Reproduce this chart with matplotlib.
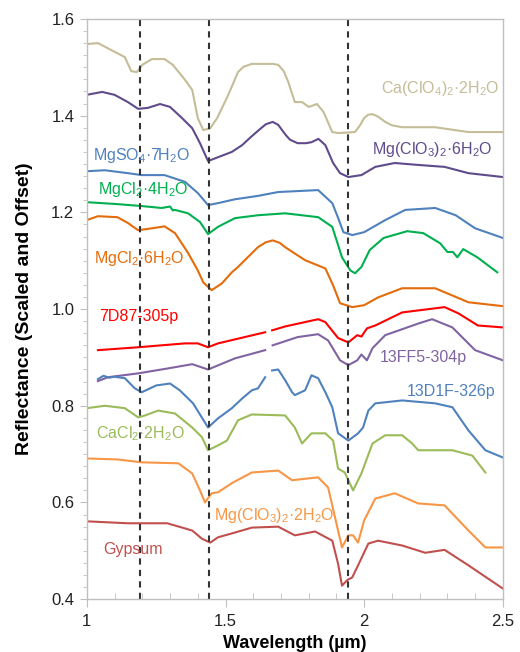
import numpy as np
import matplotlib
matplotlib.use("Agg")
import matplotlib.pyplot as plt
from matplotlib.ticker import MultipleLocator

plt.rcParams['font.family'] = ['Liberation Sans', 'DejaVu Sans']
plt.rcParams['mathtext.fontset'] = 'custom'
plt.rcParams['mathtext.rm'] = 'Liberation Sans'
plt.rcParams['mathtext.it'] = 'Liberation Sans:italic'
plt.rcParams['mathtext.bf'] = 'Liberation Sans:bold'

nan = np.nan

# ---- data (wavelength in um, reflectance scaled & offset) ----
ca_clo4_wl = [1.0, 1.04, 1.10, 1.137, 1.16, 1.18, 1.20, 1.235, 1.28, 1.31, 1.354, 1.38, 1.40, 1.42, 1.445, 1.47, 1.51, 1.545, 1.565, 1.595, 1.67, 1.69, 1.71, 1.726, 1.75, 1.776, 1.80, 1.83, 1.853, 1.885, 1.906, 1.967, 1.985, 2.0, 2.015, 2.03, 2.05, 2.076, 2.10, 2.137, 2.256, 2.376, 2.5]
ca_clo4_r = [1.548, 1.55, 1.532, 1.521, 1.492, 1.49, 1.505, 1.517, 1.517, 1.505, 1.474, 1.453, 1.395, 1.37, 1.374, 1.395, 1.443, 1.49, 1.501, 1.507, 1.507, 1.505, 1.492, 1.47, 1.428, 1.428, 1.418, 1.424, 1.408, 1.366, 1.364, 1.366, 1.38, 1.395, 1.402, 1.403, 1.398, 1.387, 1.38, 1.376, 1.376, 1.366, 1.366]

mg_clo3_6_wl = [1.0, 1.055, 1.10, 1.148, 1.185, 1.22, 1.264, 1.30, 1.343, 1.38, 1.408, 1.437, 1.473, 1.523, 1.56, 1.59, 1.62, 1.645, 1.67, 1.69, 1.704, 1.72, 1.733, 1.76, 1.79, 1.81, 1.835, 1.86, 1.888, 1.913, 1.943, 1.99, 2.04, 2.11, 2.195, 2.29, 2.376, 2.5]
mg_clo3_6_r = [1.443, 1.449, 1.443, 1.428, 1.414, 1.416, 1.424, 1.418, 1.395, 1.374, 1.343, 1.306, 1.314, 1.325, 1.339, 1.355, 1.37, 1.382, 1.387, 1.381, 1.37, 1.358, 1.35, 1.343, 1.343, 1.345, 1.352, 1.339, 1.302, 1.281, 1.273, 1.277, 1.294, 1.302, 1.298, 1.294, 1.281, 1.273]

mgso4_wl = [1.0, 1.065, 1.148, 1.198, 1.28, 1.354, 1.40, 1.437, 1.473, 1.534, 1.617, 1.69, 1.834, 1.885, 1.905, 1.925, 1.957, 2.0, 2.076, 2.148, 2.256, 2.33, 2.40, 2.5]
mgso4_r = [1.285, 1.287, 1.281, 1.277, 1.277, 1.263, 1.24, 1.215, 1.219, 1.227, 1.234, 1.242, 1.246, 1.219, 1.19, 1.159, 1.153, 1.159, 1.184, 1.205, 1.209, 1.194, 1.167, 1.147]

mgcl2_4_wl = [1.0, 1.11, 1.198, 1.27, 1.30, 1.31, 1.318, 1.365, 1.408, 1.437, 1.473, 1.534, 1.617, 1.715, 1.834, 1.885, 1.92, 1.95, 1.967, 1.99, 2.02, 2.07, 2.155, 2.213, 2.274, 2.30, 2.32, 2.336, 2.357, 2.408, 2.48]
mgcl2_4_r = [1.221, 1.217, 1.213, 1.209, 1.212, 1.204, 1.205, 1.198, 1.18, 1.155, 1.17, 1.188, 1.194, 1.198, 1.19, 1.17, 1.107, 1.08, 1.074, 1.087, 1.122, 1.147, 1.161, 1.157, 1.136, 1.118, 1.118, 1.107, 1.124, 1.107, 1.076]

mgcl2_6_wl = [1.0, 1.04, 1.11, 1.148, 1.185, 1.235, 1.28, 1.318, 1.365, 1.40, 1.42, 1.45, 1.487, 1.523, 1.545, 1.617, 1.645, 1.67, 1.695, 1.715, 1.787, 1.86, 1.888, 1.913, 1.957, 2.0, 2.05, 2.137, 2.256, 2.376, 2.5]
mgcl2_6_r = [1.184, 1.192, 1.19, 1.178, 1.163, 1.167, 1.171, 1.157, 1.116, 1.08, 1.055, 1.039, 1.053, 1.076, 1.087, 1.128, 1.138, 1.142, 1.137, 1.128, 1.101, 1.084, 1.049, 1.012, 1.004, 1.008, 1.024, 1.043, 1.043, 1.014, 1.006]

s7d87_wl = [1.04, 1.185, 1.354, 1.40, 1.437, 1.473, 1.643, 1.655, 1.668, 1.715, 1.834, 1.86, 1.906, 1.943, 1.975, 1.99, 2.01, 2.04, 2.137, 2.29, 2.34, 2.41, 2.5]
s7d87_r = [0.915, 0.921, 0.929, 0.929, 0.921, 0.929, 0.952, nan, 0.956, 0.964, 0.979, 0.973, 0.94, 0.931, 0.946, 0.943, 0.96, 0.966, 0.993, 1.004, 0.991, 0.966, 0.962]

s13ff5_wl = [1.04, 1.076, 1.185, 1.29, 1.38, 1.437, 1.534, 1.643, 1.655, 1.67, 1.76, 1.834, 1.87, 1.913, 1.943, 1.975, 1.99, 2.01, 2.03, 2.076, 2.195, 2.245, 2.318, 2.40, 2.5]
s13ff5_r = [0.851, 0.859, 0.867, 0.877, 0.886, 0.875, 0.898, 0.915, nan, 0.925, 0.942, 0.948, 0.935, 0.894, 0.884, 0.894, 0.906, 0.894, 0.919, 0.946, 0.97, 0.979, 0.962, 0.915, 0.894]

s13d1f_wl = [1.04, 1.06, 1.08, 1.10, 1.137, 1.173, 1.198, 1.25, 1.30, 1.335, 1.383, 1.437, 1.473, 1.523, 1.56, 1.595, 1.617, 1.643, 1.655, 1.668, 1.69, 1.715, 1.74, 1.75, 1.787, 1.81, 1.834, 1.86, 1.885, 1.906, 1.943, 1.978, 1.996, 2.015, 2.04, 2.137, 2.256, 2.318, 2.376, 2.437, 2.5]
s13d1f_r = [0.855, 0.862, 0.858, 0.86, 0.857, 0.836, 0.828, 0.842, 0.846, 0.832, 0.805, 0.755, 0.774, 0.795, 0.815, 0.832, 0.836, 0.859, nan, 0.873, 0.875, 0.853, 0.828, 0.822, 0.832, 0.863, 0.857, 0.828, 0.797, 0.743, 0.728, 0.743, 0.755, 0.79, 0.805, 0.811, 0.805, 0.797, 0.749, 0.708, 0.693]

cacl2_wl = [1.0, 1.065, 1.137, 1.185, 1.21, 1.257, 1.318, 1.38, 1.415, 1.437, 1.473, 1.505, 1.545, 1.595, 1.715, 1.75, 1.776, 1.81, 1.86, 1.888, 1.906, 1.93, 1.96, 1.99, 2.03, 2.076, 2.137, 2.173, 2.195, 2.318, 2.39, 2.437]
cacl2_r = [0.795, 0.80, 0.795, 0.776, 0.78, 0.79, 0.784, 0.755, 0.735, 0.708, 0.718, 0.728, 0.77, 0.782, 0.78, 0.755, 0.722, 0.743, 0.743, 0.728, 0.67, 0.662, 0.625, 0.66, 0.722, 0.739, 0.739, 0.722, 0.708, 0.708, 0.697, 0.662]

mg_clo3_2_wl = [1.0, 1.11, 1.198, 1.33, 1.38, 1.408, 1.426, 1.45, 1.473, 1.523, 1.595, 1.69, 1.74, 1.834, 1.87, 1.895, 1.92, 1.943, 1.96, 1.978, 2.0, 2.04, 2.11, 2.195, 2.29, 2.376, 2.437, 2.5]
mg_clo3_2_r = [0.691, 0.689, 0.683, 0.681, 0.66, 0.625, 0.60, 0.619, 0.621, 0.64, 0.662, 0.666, 0.646, 0.652, 0.631, 0.569, 0.507, 0.532, 0.532, 0.517, 0.563, 0.608, 0.619, 0.598, 0.594, 0.542, 0.507, 0.507]

gypsum_wl = [1.0, 1.148, 1.29, 1.38, 1.415, 1.445, 1.473, 1.523, 1.595, 1.69, 1.75, 1.823, 1.885, 1.906, 1.92, 1.94, 1.957, 1.978, 2.015, 2.05, 2.137, 2.22, 2.29, 2.376, 2.5]
gypsum_r = [0.561, 0.557, 0.557, 0.542, 0.525, 0.517, 0.528, 0.536, 0.548, 0.55, 0.532, 0.54, 0.521, 0.473, 0.428, 0.44, 0.445, 0.47, 0.515, 0.521, 0.511, 0.496, 0.502, 0.47, 0.422]

band_centers = [1.19, 1.44, 1.94]

series = [
    (ca_clo4_wl, ca_clo4_r, '#C4BD97', r'Ca(ClO$_4$)$_2$·2H$_2$O', 2.274, 1.457, 'center'),
    (mg_clo3_6_wl, mg_clo3_6_r, '#5F4B8B', r'Mg(ClO$_3$)$_2$·6H$_2$O', 2.245, 1.329, 'center'),
    (mgso4_wl, mgso4_r, '#4F81BD', r'MgSO$_4$·7H$_2$O', 1.022, 1.318, 'left'),
    (mgcl2_4_wl, mgcl2_4_r, '#00B050', r'MgCl$_2$·4H$_2$O', 1.042, 1.248, 'left'),
    (mgcl2_6_wl, mgcl2_6_r, '#E46C0A', r'MgCl$_2$·6H$_2$O', 1.027, 1.105, 'left'),
    (s7d87_wl, s7d87_r, '#FF0000', '7D87-305p', 1.045, 0.985, 'left'),
    (s13ff5_wl, s13ff5_r, '#8064A2', '13FF5-304p', 2.055, 0.90, 'left'),
    (s13d1f_wl, s13d1f_r, '#4F81BD', '13D1F-326p', 2.155, 0.83, 'left'),
    (cacl2_wl, cacl2_r, '#9BBB59', r'CaCl$_2$·2H$_2$O', 1.032, 0.743, 'left'),
    (mg_clo3_2_wl, mg_clo3_2_r, '#F79646', r'Mg(ClO$_3$)$_2$·2H$_2$O', 1.46, 0.573, 'left'),
    (gypsum_wl, gypsum_r, '#C0504D', 'Gypsum', 1.058, 0.503, 'left'),
]

fig = plt.figure(figsize=(5.2, 6.52), dpi=100)
ax = fig.add_axes([0.167, 0.081, 0.800, 0.890])

for wl, r, c, lab, tx, ty, ha in series:
    ax.plot(wl, r, color=c, lw=1.5, solid_joinstyle='round')
    ax.text(tx, ty, lab, color=c, fontsize=11.5, ha=ha, va='center')

for b in band_centers:
    ax.axvline(b, color='#333333', lw=1.5, ls=(0, (3, 2.5)))

ax.set_xlim(1.0, 2.5)
ax.set_ylim(0.4, 1.6)
ax.xaxis.set_minor_locator(MultipleLocator(0.1))
ax.yaxis.set_minor_locator(MultipleLocator(0.025))
ax.set_xticks([1.0, 1.5, 2.0, 2.5])
ax.set_xticklabels(['1', '1.5', '2', '2.5'])
ax.set_yticks([0.4, 0.6, 0.8, 1.0, 1.2, 1.4, 1.6])
ax.set_yticklabels(['0.4', '0.6', '0.8', '1.0', '1.2', '1.4', '1.6'])

for s in ax.spines.values():
    s.set_color('#BFBFBF')
    s.set_linewidth(1.0)
ax.tick_params(axis='both', which='major', labelsize=12, color='#BFBFBF', labelcolor='#222222')
ax.tick_params(axis='x', which='major', direction='out', length=6, pad=5)
ax.tick_params(axis='x', which='minor', direction='in', length=4, color='#BFBFBF')
ax.tick_params(axis='y', which='major', direction='out', length=5, pad=4)
ax.tick_params(axis='y', which='minor', direction='out', length=3, color='#BFBFBF')

ax.set_xlabel('Wavelength (µm)', fontsize=13, fontweight='bold', labelpad=4)
ax.set_ylabel('Reflectance (Scaled and Offset)', fontsize=14, fontweight='bold', labelpad=13)

fig.savefig('out.png', dpi=100)
